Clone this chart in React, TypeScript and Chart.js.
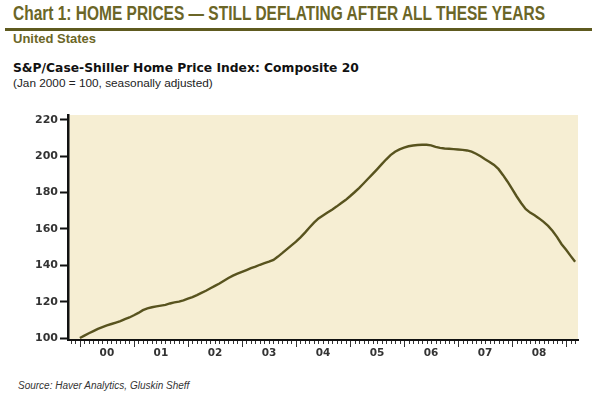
import React, { useEffect, useRef } from "react";
import { Chart, registerables } from "chart.js";

Chart.register(...registerables);

// S&P/Case-Shiller Composite 20, monthly, Jan 2000 .. Mar 2009
const hpi2000 = [100.0, 101.3, 102.6, 103.8, 105.0, 106.0, 106.9, 107.7, 108.5, 109.3, 110.4, 111.3];
const hpi2001 = [112.5, 113.8, 115.3, 116.3, 116.9, 117.4, 117.8, 118.2, 119.0, 119.6, 120.0, 120.7];
const hpi2002 = [121.6, 122.5, 123.6, 124.8, 126.0, 127.4, 128.7, 130.0, 131.5, 133.0, 134.3, 135.4];
const hpi2003 = [136.4, 137.4, 138.4, 139.3, 140.3, 141.2, 142.0, 143.0, 144.8, 146.8, 148.9, 151.0];
const hpi2004 = [153.0, 155.4, 158.0, 160.8, 163.5, 165.8, 167.4, 169.0, 170.6, 172.3, 174.1, 175.9];
const hpi2005 = [178.0, 180.2, 182.5, 185.0, 187.6, 190.2, 192.8, 195.5, 198.2, 200.6, 202.5, 203.8];
const hpi2006 = [204.8, 205.5, 205.9, 206.2, 206.3, 206.3, 206.0, 205.2, 204.6, 204.3, 204.1, 203.9];
const hpi2007 = [203.7, 203.5, 203.2, 202.5, 201.4, 200.0, 198.4, 196.9, 195.2, 192.9, 189.6, 186.0];
const hpi2008 = [182.0, 178.0, 174.3, 171.0, 169.0, 167.5, 165.8, 163.9, 161.7, 158.9, 155.5, 151.6];
const hpi2009 = [148.5, 145.2, 142.0];

const firstYear = 2000;
const yearLabels = ["00", "01", "02", "03", "04", "05", "06", "07", "08"];
const yTickValues = [100, 120, 140, 160, 180, 200, 220];

const TITLE = "Chart 1: HOME PRICES \u2014 STILL DEFLATING AFTER ALL THESE YEARS";
const SUBTITLE = "United States";
const SERIES_NAME = "S&P/Case-Shiller Home Price Index: Composite 20";
const SERIES_NOTE = "(Jan 2000 = 100, seasonally adjusted)";
const SOURCE = "Source: Haver Analytics, Gluskin Sheff";

const OLIVE = "#6b6627";
const LINE = "#58531e";
const FILL = "#f6eed3";

export default function App() {
  const canvasRef = useRef<HTMLCanvasElement | null>(null);
  const titleRef = useRef<HTMLSpanElement | null>(null);

  useEffect(() => {
    document.body.style.margin = "0";
    const t = titleRef.current;
    if (t) {
      const w = t.offsetWidth;
      if (w > 0) t.style.transform = `scaleX(${532 / w})`;
    }
    const all = [
      ...hpi2000, ...hpi2001, ...hpi2002, ...hpi2003, ...hpi2004,
      ...hpi2005, ...hpi2006, ...hpi2007, ...hpi2008, ...hpi2009,
    ];
    const points = all.map((v, i) => ({ x: firstYear + i / 12, y: v }));

    const bgPlugin = {
      id: "bgfill",
      beforeDraw(chart: any) {
        const { ctx, chartArea } = chart;
        ctx.save();
        ctx.fillStyle = FILL;
        ctx.fillRect(chartArea.left, chartArea.top, chartArea.right - chartArea.left, chartArea.bottom - chartArea.top);
        ctx.restore();
      },
    };
    const monthTicks = {
      id: "monthticks",
      afterDraw(chart: any) {
        const { ctx, chartArea, scales } = chart;
        const xs = scales.x;
        ctx.save();
        ctx.strokeStyle = "#333";
        ctx.lineWidth = 1;
        for (let m = -6; m <= 120; m++) {
          const v = firstYear + m / 12;
          if (v < xs.min || v > xs.max) continue;
          const px = Math.round(xs.getPixelForValue(v)) + 0.5;
          const len = m % 12 === 0 ? 6 : 3;
          ctx.beginPath();
          ctx.moveTo(px, chartArea.bottom + 1);
          ctx.lineTo(px, chartArea.bottom + 1 + len);
          ctx.stroke();
        }
        ctx.restore();
      },
    };

    const chart = new Chart(canvasRef.current as HTMLCanvasElement, {
      type: "line",
      data: {
        datasets: [
          {
            label: SERIES_NAME,
            data: points,
            borderColor: LINE,
            borderWidth: 2.4,
            pointRadius: 0,
            tension: 0,
            fill: false,
          },
        ],
      },
      options: {
        animation: false,
        responsive: false,
        events: [],
        layout: { padding: { left: 0, right: 19, top: 115, bottom: 32 } },
        plugins: { legend: { display: false }, tooltip: { enabled: false }, title: { display: false } },
        scales: {
          x: {
            type: "linear",
            min: 1999.78,
            max: 2009.22,
            afterBuildTicks: (s: any) => {
              s.ticks = yearLabels.map((_, i) => ({ value: firstYear + i + 0.5 }));
            },
            afterFit: (s: any) => {
              s.height = 25;
            },
            ticks: {
              autoSkip: false,
              maxRotation: 0,
              padding: 7,
              color: "#333",
              font: { family: "DejaVu Sans", size: 10.5, weight: "bold" },
              callback: (v: any) => {
                const i = Math.round(Number(v) - 0.5 - firstYear);
                return yearLabels[i] ?? "";
              },
            },
            grid: { display: true, drawOnChartArea: false, drawTicks: false },
            border: { display: true, color: "#111", width: 2 },
          },
          y: {
            min: 98.9,
            max: 222.7,
            afterBuildTicks: (s: any) => {
              s.ticks = yTickValues.map((v) => ({ value: v }));
            },
            afterFit: (s: any) => {
              s.width = 68;
            },
            ticks: {
              padding: 2,
              color: "#333",
              font: { family: "DejaVu Sans", size: 11, weight: "bold" },
            },
            grid: { drawOnChartArea: false, drawTicks: true, tickLength: 8, tickColor: "#111", tickWidth: 2 },
            border: { display: true, color: "#111", width: 2.5 },
          },
        },
      },
      plugins: [bgPlugin, monthTicks],
    } as any);
    return () => chart.destroy();
  }, []);

  return (
    <div style={{ position: "fixed", left: 0, top: 0, width: 597, height: 397, background: "#fff", overflow: "hidden", fontFamily: "'Liberation Sans', Arial, sans-serif" }}>
      <div style={{ position: "absolute", left: 13, top: 1, height: 24, lineHeight: "24px", whiteSpace: "nowrap", color: OLIVE, fontWeight: "bold", fontSize: 20 }}>
        <span ref={titleRef} style={{ display: "inline-block", transformOrigin: "left center" }}>{TITLE}</span>
      </div>
      <div style={{ position: "absolute", left: 5, top: 28, width: 587, height: 3, background: "#5e5a1f" }} />
      <div style={{ position: "absolute", left: 13, top: 31, lineHeight: "16px", color: OLIVE, fontWeight: "bold", fontSize: 13 }}>{SUBTITLE}</div>
      <div style={{ position: "absolute", left: 13, top: 61, lineHeight: "15px", color: "#111", fontWeight: "bold", fontSize: 12.3, fontFamily: "'DejaVu Sans', sans-serif", whiteSpace: "nowrap" }}>{SERIES_NAME}</div>
      <div style={{ position: "absolute", left: 13, top: 76, lineHeight: "14px", color: "#222", fontSize: 11.8, whiteSpace: "nowrap" }}>{SERIES_NOTE}</div>
      <div style={{ position: "absolute", left: 18, top: 379, lineHeight: "14px", color: "#333", fontStyle: "italic", fontSize: 10 }}>{SOURCE}</div>
      <canvas ref={canvasRef} width={597} height={397} style={{ position: "absolute", left: 0, top: 0, display: "block" }} />
    </div>
  );
}
